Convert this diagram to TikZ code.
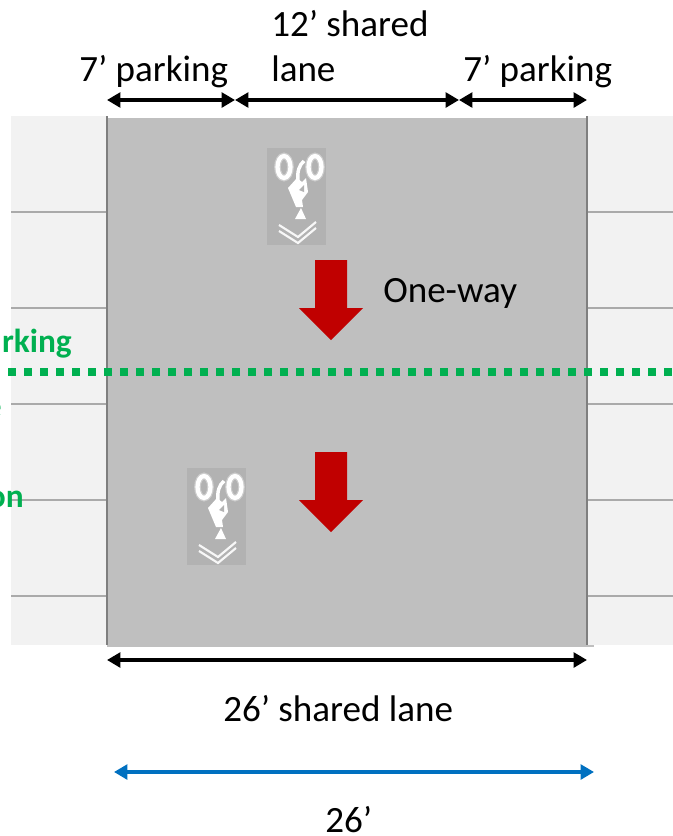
\documentclass[tikz,border=0pt]{standalone}
\usepackage{fontspec}
\setmainfont{Carlito}
\usetikzlibrary{arrows.meta}
\definecolor{road}{RGB}{191,191,191}
\definecolor{walk}{RGB}{242,242,242}
\definecolor{seam}{RGB}{170,170,170}
\definecolor{edgeg}{RGB}{127,127,127}
\definecolor{grn}{RGB}{0,176,80}
\definecolor{redd}{RGB}{192,0,0}
\definecolor{blu}{RGB}{0,112,192}
\definecolor{icon}{RGB}{178,178,178}
\tikzset{
 x=0.75pt,y=-0.75pt,
 lbl/.style={inner sep=0pt,font=\fontsize{27.8pt}{32pt}\selectfont,text=black},
 grnlbl/.style={inner sep=0pt,font=\fontsize{25pt}{30pt}\selectfont\bfseries,text=grn},
 dim/.style={line width=2.6pt,{Triangle[length=10pt,width=11pt]}-{Triangle[length=10pt,width=11pt]},black},
 dimblue/.style={dim,blu},
 seamline/.style={seam,line width=1.4pt},
 curb/.style={edgeg,line width=1.5pt},
 redarrow/.style={fill=redd,draw=none},
 iconbg/.style={fill=icon,draw=none},
 iconw/.style={draw=white,line width=3.2pt,fill=none},
 iconh/.style={draw=white,opacity=.35,line width=5pt,fill=none},
}
\newcommand{\bikeicon}[2]{%
\begin{scope}[shift={(#1,#2)}]
 \fill[iconbg] (0,0) rectangle (59,97);
 \draw[iconh] (17,19) ellipse [x radius=6.5,y radius=11];
 \draw[iconh] (48,19) ellipse [x radius=6.5,y radius=11];
 \draw[iconw] (17,19) ellipse [x radius=6.5,y radius=11];
 \draw[iconw] (48,19) ellipse [x radius=6.5,y radius=11];
 \draw[white,line width=2.6pt] (37,13) .. controls (32,17) and (30,24) .. (31,33);
 \fill[white] (21,40) -- (30,30) -- (35,34) -- (39,30) -- (41,44) -- (35,52) -- (36,59) -- (29,59) -- cycle;
 \fill[icon] (32,42) -- (37,37) -- (37,44) -- cycle;
 \fill[white] (28,71) -- (34,60) -- (39,71) -- cycle;
 \draw[white,line width=1.6pt,opacity=.9] (12,77) -- (31,89) -- (49,74);
 \draw[white,line width=1.6pt,opacity=.9] (12,83) -- (31,95) -- (49,80);
\end{scope}}
\begin{document}
\begin{tikzpicture}
\useasboundingbox (0,0) rectangle (673,836);
\clip (0,0) rectangle (673,836);
% sidewalks
\fill[walk] (11,116) rectangle (107,645);
\fill[walk] (587,116) rectangle (673,645);
\foreach \yy in {212,308,404,500,596}{
 \draw[seamline] (11,\yy) -- (107,\yy);
 \draw[seamline] (587,\yy) -- (673,\yy);
}
% road
\fill[road] (107,118) rectangle (587,647);
\fill[road] (587,645) rectangle (594,647);
\draw[curb] (107,116) -- (107,645);
\draw[curb] (587,116) -- (587,645);
% icons
\bikeicon{267}{148}
\bikeicon{187}{468}
% red arrows
\fill[redarrow] (315,260) -- (347,260) -- (347,308) -- (363,308) -- (331,340) -- (299,308) -- (315,308) -- cycle;
\fill[redarrow] (315,452) -- (347,452) -- (347,500) -- (363,500) -- (331,532) -- (299,500) -- (315,500) -- cycle;
% green text and line
\node[grnlbl,anchor=base east] (gparking) at (72,352) {rking};
\node[grnlbl,anchor=base east] (ge) at (2,417) {e};
\node[grnlbl,anchor=base east] (gon) at (24,507) {on};
\coordinate (gl) at (8,372);
\coordinate (gr) at (673,372);
\draw[grn,line width=6pt,dash pattern=on 6pt off 6pt] (gl) -- (gr);
% dimension anchors
\coordinate (a1) at (107,100);
\coordinate (a2) at (235,100);
\coordinate (a3) at (459,100);
\coordinate (a4) at (587,100);
\coordinate (b1) at (107,660);
\coordinate (b2) at (587,660);
\coordinate (c1) at (114,772);
\coordinate (c2) at (594,772);
\draw[dim] (a1) -- (a2);
\draw[dim] (a2) -- (a3);
\draw[dim] (a3) -- (a4);
\draw[dim] (b1) -- (b2);
\draw[dimblue] (c1) -- (c2);
% labels
\node[lbl,anchor=base west] (p1) at (79,81) {7’ parking};
\node[lbl,anchor=base west] (s1) at (271,36) {12’ shared};
\node[lbl,anchor=base west] (s2) at (271,81) {lane};
\node[lbl,anchor=base west] (p2) at (463,81) {7’ parking};
\node[lbl,anchor=base west] (ow) at (383,302) {One-way};
\node[lbl,anchor=base west] (sl) at (223,721) {26’ shared lane};
\node[lbl,anchor=base west] (w) at (325,832) {26’};
\end{tikzpicture}
\end{document}
